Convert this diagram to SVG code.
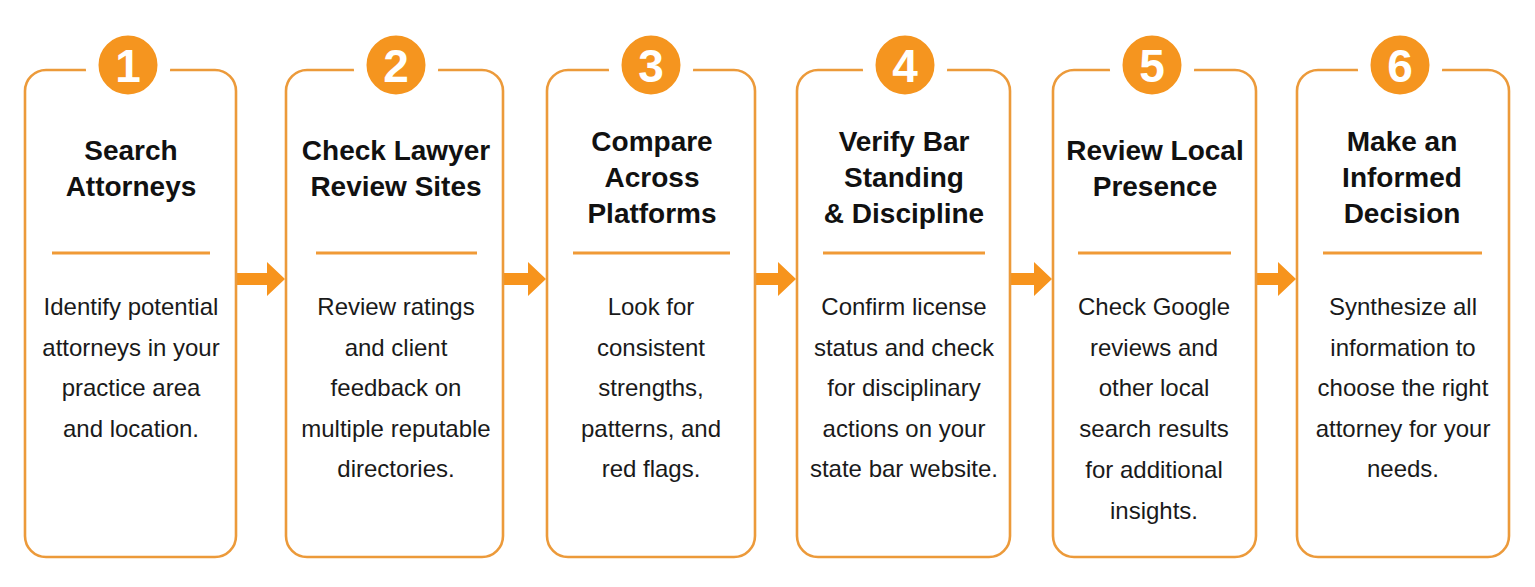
<svg xmlns="http://www.w3.org/2000/svg" width="1535" height="587" viewBox="0 0 1535 587">
<style>
.card{fill:#ffffff;stroke:#EC9A3A;stroke-width:2.6}
.badge{fill:#F5951F;stroke:#ffffff;stroke-width:13}
.num{font-family:"Liberation Sans",Arial,sans-serif;font-weight:700;font-size:46px;fill:#ffffff;text-anchor:middle}
.title{font-family:"Liberation Sans",Arial,sans-serif;font-weight:700;font-size:28px;fill:#111111;text-anchor:middle}
.body{font-family:"Liberation Sans",Arial,sans-serif;font-size:24px;fill:#1a1a1a;text-anchor:middle}
.rule{stroke:#F09A36;stroke-width:3}
.arrow{fill:#F7941D}
</style>
<rect x="0" y="0" width="1535" height="587" fill="#ffffff"/>

<g id="connectors">
  <path class="arrow" d="M236,273 H267 V262 L285,279 L267,296 V285 H236 Z"/>
  <path class="arrow" d="M503,273 H528 V262 L546,279 L528,296 V285 H503 Z"/>
  <path class="arrow" d="M755,273 H778 V262 L796,279 L778,296 V285 H755 Z"/>
  <path class="arrow" d="M1010,273 H1034 V262 L1052,279 L1034,296 V285 H1010 Z"/>
  <path class="arrow" d="M1256,273 H1278 V262 L1296,279 L1278,296 V285 H1256 Z"/>
</g>

<g id="step1">
  <rect class="card" x="25" y="70" width="211" height="487" rx="21"/>
  <circle class="badge" cx="128" cy="65" r="36"/>
  <text class="num" x="128" y="82">1</text>
  <text class="title" x="131" y="160">Search</text>
  <text class="title" x="131" y="196">Attorneys</text>
  <line class="rule" x1="52" y1="253" x2="210" y2="253"/>
  <text class="body" x="131" y="315">Identify potential</text>
  <text class="body" x="131" y="356">attorneys in your</text>
  <text class="body" x="131" y="396">practice area</text>
  <text class="body" x="131" y="437">and location.</text>
</g>

<g id="step2">
  <rect class="card" x="286" y="70" width="217" height="487" rx="21"/>
  <circle class="badge" cx="396" cy="65" r="36"/>
  <text class="num" x="396" y="82">2</text>
  <text class="title" x="396" y="160">Check Lawyer</text>
  <text class="title" x="396" y="196">Review Sites</text>
  <line class="rule" x1="316" y1="253" x2="477" y2="253"/>
  <text class="body" x="396" y="315">Review ratings</text>
  <text class="body" x="396" y="356">and client</text>
  <text class="body" x="396" y="396">feedback on</text>
  <text class="body" x="396" y="437">multiple reputable</text>
  <text class="body" x="396" y="477">directories.</text>
</g>

<g id="step3">
  <rect class="card" x="547" y="70" width="208" height="487" rx="21"/>
  <circle class="badge" cx="651" cy="65" r="36"/>
  <text class="num" x="651" y="82">3</text>
  <text class="title" x="652" y="151">Compare</text>
  <text class="title" x="652" y="187">Across</text>
  <text class="title" x="652" y="223">Platforms</text>
  <line class="rule" x1="573" y1="253" x2="730" y2="253"/>
  <text class="body" x="651" y="315">Look for</text>
  <text class="body" x="651" y="356">consistent</text>
  <text class="body" x="651" y="396">strengths,</text>
  <text class="body" x="651" y="437">patterns, and</text>
  <text class="body" x="651" y="477">red flags.</text>
</g>

<g id="step4">
  <rect class="card" x="797" y="70" width="213" height="487" rx="21"/>
  <circle class="badge" cx="905" cy="65" r="36"/>
  <text class="num" x="905" y="82">4</text>
  <text class="title" x="904" y="151">Verify Bar</text>
  <text class="title" x="904" y="187">Standing</text>
  <text class="title" x="904" y="223">&amp; Discipline</text>
  <line class="rule" x1="823" y1="253" x2="985" y2="253"/>
  <text class="body" x="904" y="315">Confirm license</text>
  <text class="body" x="904" y="356">status and check</text>
  <text class="body" x="904" y="396">for disciplinary</text>
  <text class="body" x="904" y="437">actions on your</text>
  <text class="body" x="904" y="477">state bar website.</text>
</g>

<g id="step5">
  <rect class="card" x="1053" y="70" width="203" height="487" rx="21"/>
  <circle class="badge" cx="1152" cy="65" r="36"/>
  <text class="num" x="1152" y="82">5</text>
  <text class="title" x="1155" y="160">Review Local</text>
  <text class="title" x="1155" y="196">Presence</text>
  <line class="rule" x1="1078" y1="253" x2="1231" y2="253"/>
  <text class="body" x="1154" y="315">Check Google</text>
  <text class="body" x="1154" y="356">reviews and</text>
  <text class="body" x="1154" y="396">other local</text>
  <text class="body" x="1154" y="437">search results</text>
  <text class="body" x="1154" y="478">for additional</text>
  <text class="body" x="1154" y="519">insights.</text>
</g>

<g id="step6">
  <rect class="card" x="1297" y="70" width="212" height="487" rx="21"/>
  <circle class="badge" cx="1400" cy="65" r="36"/>
  <text class="num" x="1400" y="82">6</text>
  <text class="title" x="1402" y="151">Make an</text>
  <text class="title" x="1402" y="187">Informed</text>
  <text class="title" x="1402" y="223">Decision</text>
  <line class="rule" x1="1323" y1="253" x2="1482" y2="253"/>
  <text class="body" x="1403" y="315">Synthesize all</text>
  <text class="body" x="1403" y="356">information to</text>
  <text class="body" x="1403" y="396">choose the right</text>
  <text class="body" x="1403" y="437">attorney for your</text>
  <text class="body" x="1403" y="477">needs.</text>
</g>
</svg>
